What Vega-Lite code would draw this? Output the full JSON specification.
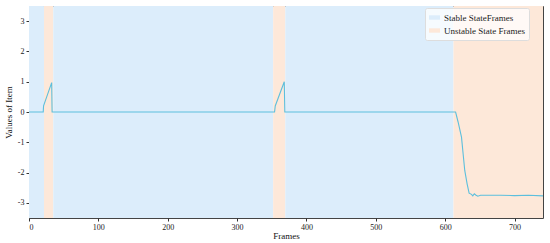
{
  "$schema": "https://vega.github.io/schema/vega-lite/v6.json",
  "width": 514,
  "height": 212,
  "autosize": {"type": "none"},
  "padding": {"left": 29, "top": 6, "right": 7, "bottom": 25},
  "background": "white",
  "config": {
    "font": "Liberation Serif",
    "view": {"stroke": "#444", "strokeWidth": 1},
    "axis": {
      "grid": false,
      "domain": false,
      "tickColor": "#333",
      "tickSize": 3,
      "labelFont": "Liberation Serif",
      "labelFontSize": 8,
      "labelColor": "#222",
      "titleFont": "Liberation Serif",
      "titleFontSize": 9,
      "titleFontWeight": "normal",
      "titleColor": "#111"
    }
  },
  "datasets": {
    "bands": [
      {"start": 0, "end": 21.6, "state": "Stable StateFrames"},
      {"start": 21.6, "end": 35, "state": "Unstable State Frames"},
      {"start": 35, "end": 352, "state": "Stable StateFrames"},
      {"start": 352, "end": 369.5, "state": "Unstable State Frames"},
      {"start": 369.5, "end": 612, "state": "Stable StateFrames"},
      {"start": 612, "end": 741, "state": "Unstable State Frames"}
    ],
    "series": [
      {"frame": 0, "value": 0},
      {"frame": 20.5, "value": 0},
      {"frame": 21, "value": 0.2},
      {"frame": 32.7, "value": 0.97},
      {"frame": 33.3, "value": 0},
      {"frame": 354, "value": 0},
      {"frame": 355, "value": 0.2},
      {"frame": 368, "value": 1.0},
      {"frame": 368.8, "value": 0},
      {"frame": 615, "value": 0},
      {"frame": 618.6, "value": -0.33},
      {"frame": 623.5, "value": -0.83},
      {"frame": 625.8, "value": -1.37},
      {"frame": 628.2, "value": -1.93},
      {"frame": 631.6, "value": -2.37},
      {"frame": 634.5, "value": -2.68},
      {"frame": 637.9, "value": -2.72},
      {"frame": 639.8, "value": -2.77},
      {"frame": 642, "value": -2.7},
      {"frame": 644, "value": -2.74},
      {"frame": 647, "value": -2.78},
      {"frame": 651, "value": -2.75},
      {"frame": 680, "value": -2.75},
      {"frame": 700, "value": -2.76},
      {"frame": 720, "value": -2.75},
      {"frame": 741, "value": -2.77}
    ]
  },
  "layer": [
    {
      "data": {"name": "bands"},
      "mark": {"type": "rect"},
      "encoding": {
        "x": {"field": "start", "type": "quantitative", "scale": {"domain": [0, 741], "nice": false, "zero": false}},
        "x2": {"field": "end"},
        "y": {"value": 0},
        "y2": {"value": 212},
        "color": {
          "field": "state",
          "type": "nominal",
          "scale": {"domain": ["Stable StateFrames", "Unstable State Frames"], "range": ["#dcedfb", "#fde8d9"]},
          "legend": {
            "title": null,
            "orient": "none",
            "legendX": 396,
            "legendY": 2,
            "symbolType": "M-1,-0.4H1V0.4H-1Z",
            "symbolSize": 120,
            "symbolStrokeWidth": 0,
            "labelFont": "Liberation Serif",
            "labelFontSize": 9,
            "labelColor": "#222",
            "fillColor": "rgba(255,255,255,0.75)",
            "strokeColor": "#ddd",
            "padding": 4,
            "rowPadding": 2,
            "cornerRadius": 2
          }
        }
      }
    },
    {
      "data": {"name": "series"},
      "mark": {"type": "line", "color": "#5cbfdd", "strokeWidth": 1.1},
      "encoding": {
        "x": {
          "field": "frame",
          "type": "quantitative",
          "scale": {"domain": [0, 741], "nice": false, "zero": false},
          "axis": {"title": "Frames", "values": [0, 100, 200, 300, 400, 500, 600, 700], "labelExpr": "toString(datum.value)", "titlePadding": 0}
        },
        "y": {
          "field": "value",
          "type": "quantitative",
          "scale": {"domain": [-3.5, 3.5], "nice": false},
          "axis": {"title": "Values of Item", "values": [-3, -2, -1, 0, 1, 2, 3], "labelExpr": "toString(datum.value)", "titlePadding": 4}
        }
      }
    }
  ]
}
